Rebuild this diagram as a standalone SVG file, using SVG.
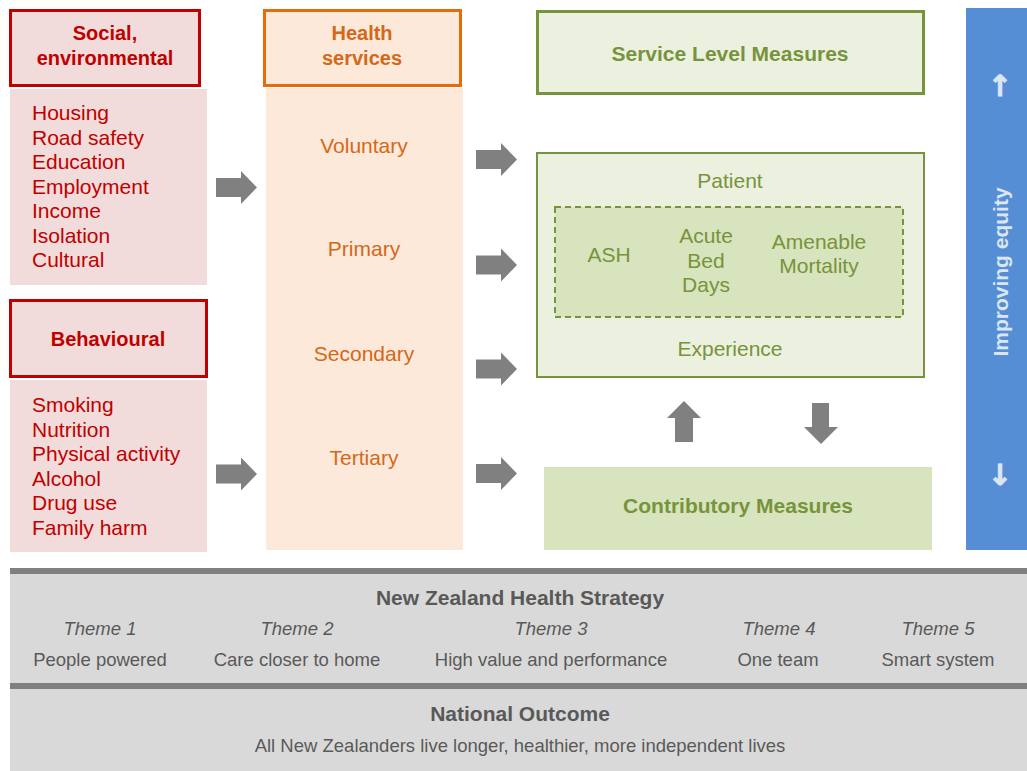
<svg xmlns="http://www.w3.org/2000/svg" width="1027" height="771" viewBox="0 0 1027 771">
  <style>
    text { font-family: "Liberation Sans", Arial, sans-serif; }
    .red { fill: #C00000; font-size: 21px; }
    .redh { fill: #C00000; font-size: 20px; font-weight: bold; text-anchor: middle; }
    .org { fill: #D4681A; font-size: 21px; text-anchor: middle; }
    .orgh { fill: #D4681A; font-size: 20px; font-weight: bold; text-anchor: middle; }
    .grn { fill: #77933C; font-size: 21px; text-anchor: middle; }
    .grnh { fill: #77933C; font-size: 21px; font-weight: bold; text-anchor: middle; }
    .gry { fill: #595959; font-size: 18.5px; text-anchor: middle; }
    .gryi { fill: #595959; font-size: 18.5px; font-style: italic; text-anchor: middle; }
    .gryh { fill: #595959; font-size: 21px; font-weight: bold; text-anchor: middle; }
    .blk { fill: #808080; }
    .eqarrow { fill: #DCE6F2; stroke: #DCE6F2; stroke-width: 0.9px; font-family: "DejaVu Sans", sans-serif; font-size: 29px; font-weight: bold; text-anchor: middle; }
  </style>
  <defs>
    <path id="arrowR" d="M0,-9.5 H25 V-16.5 L41,0 L25,16.5 V9.5 H0 Z"/>
  </defs>
  <rect width="1027" height="771" fill="#FFFFFF"/>

  <!-- Social / environmental determinants -->
  <g id="social">
    <rect x="10.5" y="10.5" width="189" height="75" fill="#F2DCDB" stroke="#C00000" stroke-width="3"/>
    <text class="redh" x="105" y="40">Social,</text>
    <text class="redh" x="105" y="65">environmental</text>
    <rect x="10" y="89" width="197" height="196" fill="#F2DCDB"/>
    <text class="red" x="32" y="120">Housing</text>
    <text class="red" x="32" y="144.5">Road safety</text>
    <text class="red" x="32" y="169">Education</text>
    <text class="red" x="32" y="193.5">Employment</text>
    <text class="red" x="32" y="218">Income</text>
    <text class="red" x="32" y="242.5">Isolation</text>
    <text class="red" x="32" y="267">Cultural</text>
  </g>

  <!-- Behavioural determinants -->
  <g id="behavioural">
    <rect x="10.5" y="300.5" width="196" height="76" fill="#F2DCDB" stroke="#C00000" stroke-width="3"/>
    <text class="redh" x="108" y="346">Behavioural</text>
    <rect x="10" y="380" width="197" height="172" fill="#F2DCDB"/>
    <text class="red" x="32" y="412">Smoking</text>
    <text class="red" x="32" y="436.5">Nutrition</text>
    <text class="red" x="32" y="461">Physical activity</text>
    <text class="red" x="32" y="485.5">Alcohol</text>
    <text class="red" x="32" y="510">Drug use</text>
    <text class="red" x="32" y="534.5">Family harm</text>
  </g>

  <!-- Health services -->
  <g id="health-services">
    <rect x="266" y="88" width="197" height="462" fill="#FDE9D9"/>
    <rect x="264.5" y="10.5" width="196" height="75" fill="#FDE9D9" stroke="#E46C0A" stroke-width="3"/>
    <text class="orgh" x="362" y="40">Health</text>
    <text class="orgh" x="362" y="65">services</text>
    <text class="org" x="364" y="152.5">Voluntary</text>
    <text class="org" x="364" y="256">Primary</text>
    <text class="org" x="364" y="361">Secondary</text>
    <text class="org" x="364" y="465">Tertiary</text>
  </g>

  <!-- Service Level Measures -->
  <g id="service-level">
    <rect x="537.5" y="11.5" width="386" height="82" fill="#EBF1DE" stroke="#77933C" stroke-width="3"/>
    <text class="grnh" x="730" y="60.5">Service Level Measures</text>
  </g>

  <!-- Patient experience with system level measures -->
  <g id="patient-experience">
    <rect x="537" y="153" width="387" height="224" fill="#EBF1DE" stroke="#77933C" stroke-width="2"/>
    <text class="grn" x="730" y="188">Patient</text>
    <text class="grn" x="730" y="356">Experience</text>
  </g>
  <g id="system-measures">
    <rect x="555" y="207" width="348" height="110" fill="#D7E4BD" stroke="#77933C" stroke-width="2" stroke-dasharray="6,4"/>
    <text class="grn" x="609" y="262">ASH</text>
    <text class="grn" x="706" y="243">Acute</text>
    <text class="grn" x="706" y="268">Bed</text>
    <text class="grn" x="706" y="292">Days</text>
    <text class="grn" x="819" y="249">Amenable</text>
    <text class="grn" x="819" y="273">Mortality</text>
  </g>

  <!-- Contributory Measures -->
  <g id="contributory">
    <rect x="544" y="467" width="388" height="83" fill="#D7E4BD"/>
    <text class="grnh" x="738" y="513">Contributory Measures</text>
  </g>

  <!-- Improving equity bar -->
  <g id="equity">
    <rect x="966" y="8" width="61" height="542" fill="#558ED5"/>
    <text class="eqarrow" x="1000" y="96">↑</text>
    <text class="eqarrow" x="1000" y="485">↓</text>
    <text transform="translate(1007.5,272) rotate(-90)" fill="#DCE6F2" font-size="21" font-weight="bold" text-anchor="middle">Improving equity</text>
  </g>

  <!-- Connectors: block arrows -->
  <g id="connectors" class="blk">
    <use href="#arrowR" x="216" y="187.5"/>
    <use href="#arrowR" x="216" y="474"/>
    <use href="#arrowR" x="476" y="159.5"/>
    <use href="#arrowR" x="476" y="265"/>
    <use href="#arrowR" x="476" y="369"/>
    <use href="#arrowR" x="476" y="473.5"/>
    <path d="M675,442 V418 H667 L684,401 L701,418 H693 V442 Z"/>
    <path d="M812,403 V427 H804 L821,444 L838,427 H829 V403 Z"/>
  </g>

  <!-- New Zealand Health Strategy band -->
  <g id="strategy">
    <rect x="10" y="573" width="1017" height="111" fill="#D9D9D9"/>
    <rect x="10" y="568" width="1017" height="6" fill="#808080"/>
    <text class="gryh" x="520" y="605">New Zealand Health Strategy</text>
    <text class="gryi" x="100" y="635">Theme 1</text>
    <text class="gryi" x="297" y="635">Theme 2</text>
    <text class="gryi" x="551" y="635">Theme 3</text>
    <text class="gryi" x="779" y="635">Theme 4</text>
    <text class="gryi" x="938" y="635">Theme 5</text>
    <text class="gry" x="100" y="666">People powered</text>
    <text class="gry" x="297" y="666">Care closer to home</text>
    <text class="gry" x="551" y="666">High value and performance</text>
    <text class="gry" x="778" y="666">One team</text>
    <text class="gry" x="938" y="666">Smart system</text>
  </g>

  <!-- National Outcome band -->
  <g id="outcome">
    <rect x="10" y="689" width="1017" height="82" fill="#D9D9D9"/>
    <rect x="10" y="683" width="1017" height="6" fill="#808080"/>
    <text class="gryh" x="520" y="721">National Outcome</text>
    <text class="gry" x="520" y="752">All New Zealanders live longer, healthier, more independent lives</text>
  </g>
</svg>
